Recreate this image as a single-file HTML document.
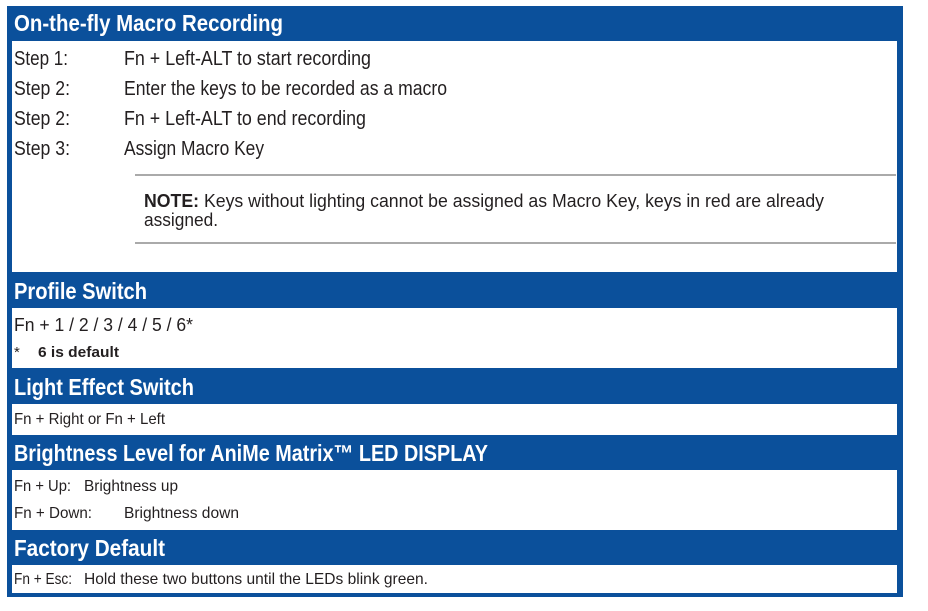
<!DOCTYPE html>
<html><head><meta charset="utf-8">
<style>
html,body{margin:0;padding:0;background:#fff;width:928px;height:611px;overflow:hidden;position:relative;font-family:"Liberation Sans",sans-serif;color:#231f20}
.box{position:absolute;left:7px;top:6px;width:896px;height:591px;background:#0b509b}
.w{position:absolute;left:12px;width:885px;background:#fff}
.t{position:absolute;white-space:nowrap;transform-origin:0 50%;line-height:1}
.h{color:#fff;font-weight:bold;font-size:23px}
.s{font-size:20px}
.m{font-size:16px}
.g{position:absolute;left:135px;width:761px;height:2px;background:#aaa}
</style></head><body>
<div class="box"></div>
<div class="w" style="top:41px;height:231px"></div>
<div class="w" style="top:308px;height:60px"></div>
<div class="w" style="top:404px;height:31px"></div>
<div class="w" style="top:470px;height:60px"></div>
<div class="w" style="top:565px;height:28px"></div>
<div class="g" style="top:174px"></div>
<div class="g" style="top:242px"></div>

<div class="t h" style="left:14px;top:12px;--w:269">On-the-fly Macro Recording</div>
<div class="t s" style="left:14px;top:49px;--w:54">Step 1:</div>
<div class="t s" style="left:124px;top:49px;--w:247">Fn + Left-ALT to start recording</div>
<div class="t s" style="left:14px;top:79px;--w:56">Step 2:</div>
<div class="t s" style="left:124px;top:79px;--w:323">Enter the keys to be recorded as a macro</div>
<div class="t s" style="left:14px;top:109px;--w:56">Step 2:</div>
<div class="t s" style="left:124px;top:109px;--w:242">Fn + Left-ALT to end recording</div>
<div class="t s" style="left:14px;top:139px;--w:56">Step 3:</div>
<div class="t s" style="left:124px;top:139px;--w:140">Assign Macro Key</div>
<div class="t m" style="left:144px;top:192px;font-size:18px;--w:680"><b>NOTE:</b> Keys without lighting cannot be assigned as Macro Key, keys in red are already</div>
<div class="t m" style="left:144px;top:211px;font-size:18px;--w:74">assigned.</div>

<div class="t h" style="left:14px;top:280px;--w:133">Profile Switch</div>
<div class="t m" style="left:14px;top:316px;font-size:18px;--w:179">Fn + 1 / 2 / 3 / 4 / 5 / 6*</div>
<div class="t m" style="left:14px;top:345px;font-size:15px">*</div>
<div class="t m" style="left:38px;top:345px;font-size:15px;font-weight:bold;--w:81">6 is default</div>

<div class="t h" style="left:14px;top:376px;--w:180">Light Effect Switch</div>
<div class="t m" style="left:14px;top:412px;font-size:16px;--w:151">Fn + Right or Fn + Left</div>

<div class="t h" style="left:14px;top:442px;--w:474">Brightness Level for AniMe Matrix™ LED DISPLAY</div>
<div class="t m" style="left:14px;top:479px;font-size:16px;--w:57">Fn + Up:</div>
<div class="t m" style="left:84px;top:479px;font-size:16px;--w:94">Brightness up</div>
<div class="t m" style="left:14px;top:506px;font-size:16px;--w:78">Fn + Down:</div>
<div class="t m" style="left:124px;top:506px;font-size:16px;--w:115">Brightness down</div>

<div class="t h" style="left:14px;top:537px;--w:151">Factory Default</div>
<div class="t m" style="left:14px;top:572px;font-size:16px;--w:58">Fn + Esc:</div>
<div class="t m" style="left:84px;top:572px;font-size:16px;--w:344">Hold these two buttons until the LEDs blink green.</div>
<script>
document.querySelectorAll('.t').forEach(function(e){
  var w=parseFloat(getComputedStyle(e).getPropertyValue('--w'));
  if(w){var r=e.getBoundingClientRect().width;if(r>0)e.style.transform='scaleX('+(w/r)+')';}
});
</script>
</body></html>
